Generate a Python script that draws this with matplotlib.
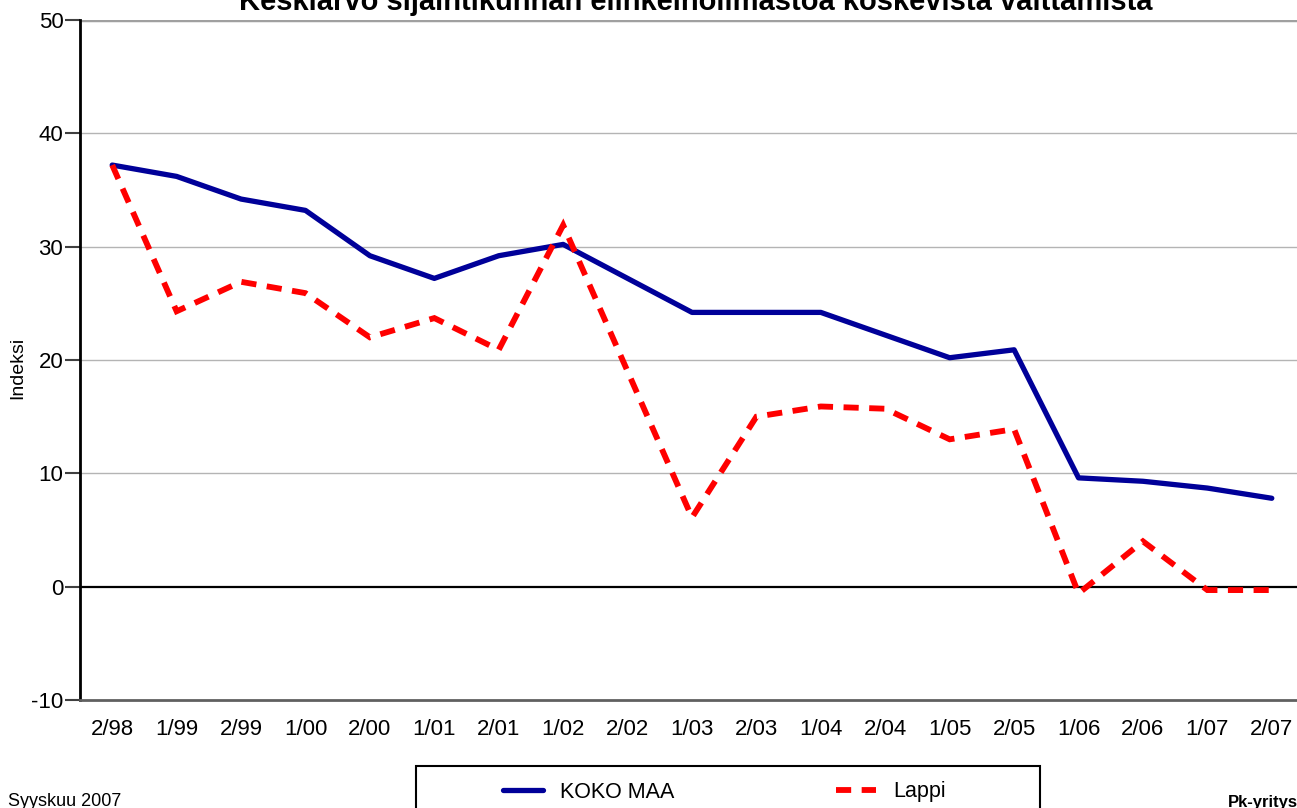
import matplotlib
matplotlib.use("Agg")
import matplotlib.pyplot as plt
from matplotlib.patches import Rectangle

categories = ["2/98", "1/99", "2/99", "1/00", "2/00", "1/01", "2/01", "1/02", "2/02", "1/03",
              "2/03", "1/04", "2/04", "1/05", "2/05", "1/06", "2/06", "1/07", "2/07"]
koko_maa = [37.2, 36.2, 34.2, 33.2, 29.2, 27.2, 29.2, 30.2, 27.2, 24.2,
            24.2, 24.2, 22.2, 20.2, 20.9, 9.6, 9.3, 8.7, 7.8]
lappi = [37.2, 24.3, 26.9, 25.9, 22.0, 23.7, 20.9, 31.9, 19.0, 6.1,
         15.0, 15.9, 15.7, 13.0, 13.9, -0.6, 4.0, -0.3, -0.3]
yticks = [-10, 0, 10, 20, 30, 40, 50]
ytick_labels = ["-10", "0", "10", "20", "30", "40", "50"]

plt.rcParams['font.family'] = ['Liberation Sans', 'DejaVu Sans']

W, H = 1297, 808
fig = plt.figure(figsize=(W / 100, H / 100), dpi=100)
left, right, top, bottom = 80, 1304, 20, 700
ax = fig.add_axes([left / W, 1 - bottom / H, (right - left) / W, (bottom - top) / H])

x = list(range(len(categories)))
l1, = ax.plot(x, koko_maa, color='#000099', lw=3.8, solid_joinstyle='round',
              solid_capstyle='round', label='KOKO MAA', zorder=3)
l2, = ax.plot(x, lappi, color='#ff0000', lw=4.2, linestyle=(0, (2.6, 1.8)),
              dash_joinstyle='miter', label='Lappi', zorder=4)

ax.set_xlim(-0.5, len(categories) - 0.5)
ax.set_ylim(-10, 50)
ax.set_yticks(yticks)
ax.set_yticklabels(ytick_labels)
ax.set_xticks(x)
ax.set_xticklabels(categories)
ax.tick_params(axis='x', length=0, pad=14, labelsize=16)
ax.tick_params(axis='y', length=11, width=1.5, color='#404040', direction='out',
               labelsize=16, pad=1)

for y in yticks:
    if y == 0:
        ax.axhline(y, color='black', lw=1.6, zorder=2)
    elif y == 50:
        ax.axhline(y, color='#a0a0a0', lw=2.5, zorder=2)
    elif y != -10:
        ax.axhline(y, color='#b4b4b4', lw=1, zorder=1)

for s in ['top', 'right']:
    ax.spines[s].set_visible(False)
ax.spines['left'].set_linewidth(2)
ax.spines['left'].set_color('black')
ax.spines['bottom'].set_color('#606060')
ax.spines['bottom'].set_linewidth(2)

fig.text(18 / W, 1 - 368 / H, 'Indeksi', rotation=90, ha='center', va='center', fontsize=14)

fig.text(696 / W, 1 - 10 / H, 'Keskiarvo sijaintikunnan elinkeinoilmastoa koskevista väittämistä',
         ha='center', va='baseline', fontsize=21, fontweight='bold')

fig.text(8 / W, 1 - 801 / H, 'Syyskuu 2007', ha='left', va='center', fontsize=13)
fig.text(1228 / W, 1 - 802 / H, 'Pk-yritysbarometri', ha='left', va='center', fontsize=12,
         fontweight='bold')

# legend box
rect = Rectangle((416 / W, -0.01), (1040 - 416) / W, 1.01 - 766 / H, transform=fig.transFigure,
                 facecolor='white', edgecolor='black', lw=1.5, zorder=5)
fig.patches.append(rect)
leg = fig.legend(handles=[l1, l2], loc='center left', bbox_to_anchor=(484 / W, 1 - 792 / H),
                 ncol=2, frameon=False, handlelength=1.85, handletextpad=0.8,
                 columnspacing=7.5, prop={'size': 15.5})
leg.set_zorder(6)

fig.savefig('out.png', dpi=100)
